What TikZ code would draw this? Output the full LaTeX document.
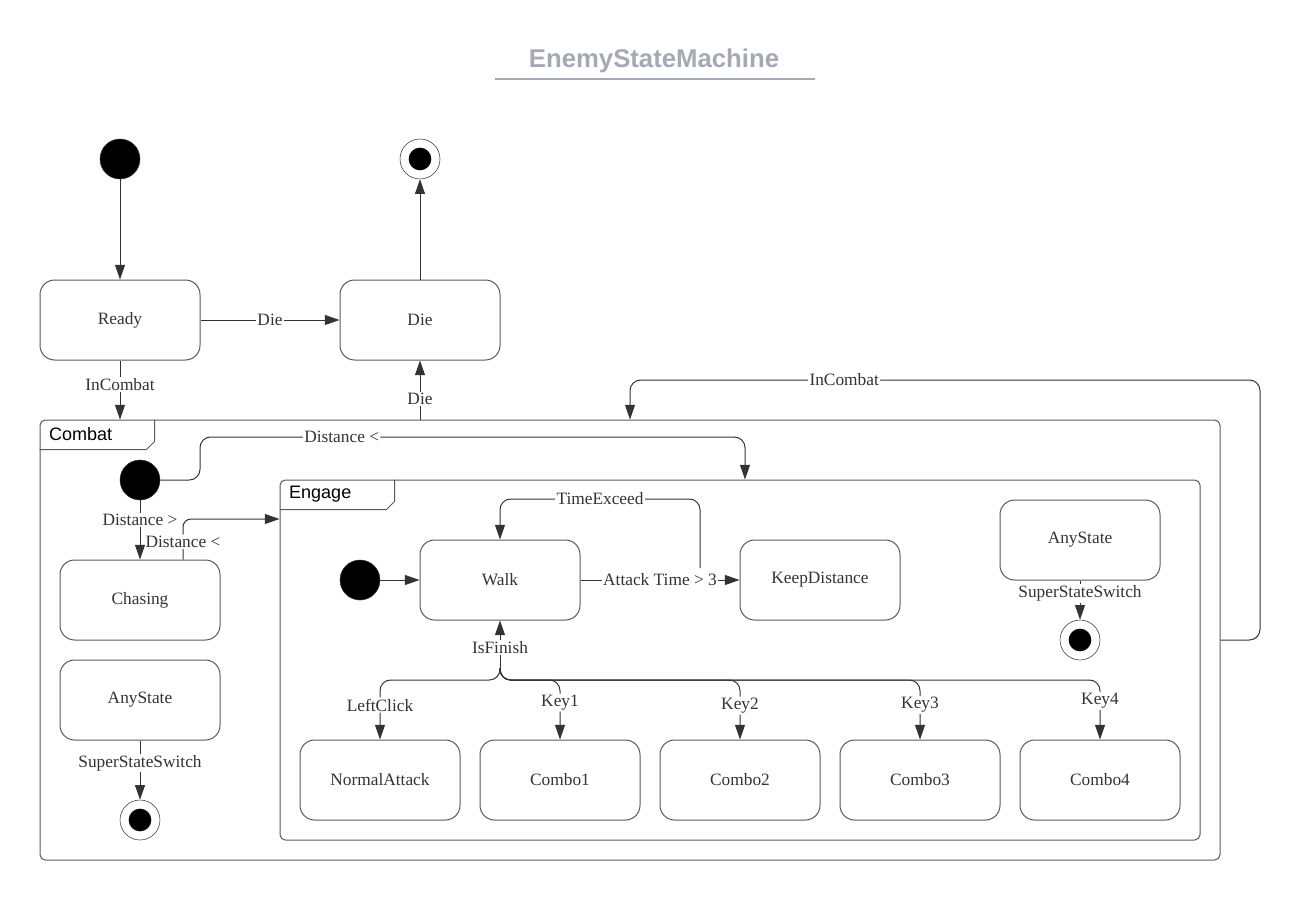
\documentclass[tikz,border=0pt]{standalone}
\usepackage{fontspec}
\setmainfont{Liberation Serif}
\newfontfamily\sansf{Liberation Sans}
\usetikzlibrary{positioning, arrows.meta, calc}
\definecolor{linea}{HTML}{333333}
\definecolor{borde}{HTML}{5A5A5A}
\definecolor{titulo}{HTML}{A4A9B3}
\tikzset{arco/.style={line width=0.75pt, draw=linea, -{Triangle[length=11pt,width=7.5pt]}}}
\tikzset{llabel/.style={fill=white, inner sep=1pt, text=linea, font=\fontsize{13}{15}\selectfont}}
\tikzset{estado/.style={draw=borde, line width=0.75pt, rounded corners=11pt, minimum width=120pt, minimum height=60pt, text=linea, font=\fontsize{13}{15}\selectfont}}
\tikzset{marco/.style={draw=borde, line width=0.75pt, rounded corners=4pt}}
\tikzset{inicio/.style={circle, draw=linea, fill=black, minimum size=30pt, inner sep=0pt}}
\tikzset{fin/.style={circle, draw=linea, fill=white, minimum size=30pt, inner sep=0pt,
    path picture={\fill[black] (path picture bounding box.center) circle (8.5pt);}}}
\tikzset{pestana/.style={anchor=west, text=black, font=\sansf\fontsize{13.5}{16}\selectfont}}
\begin{document}
\begin{tikzpicture}[x=0.75pt, y=-0.75pt]
    \useasboundingbox (0,0) rectangle (1301,897);
    % title
    \node[text=titulo, font=\sansf\bfseries\fontsize{19.3}{22}\selectfont] (title) at (654,61) {EnemyStateMachine};
    \draw[titulo, line width=1.5pt] (495,79) -- (815,79);

    % top level
    \node[inicio] (ini) at (120,159) {};
    \node[fin] (fin) at (420,159) {};
    \node[estado] (ready) at (120,320) {Ready};
    \node[estado] (die) at (420,320) {Die};

    % combat
    \node[marco, minimum width=885pt, minimum height=330pt] (combat) at (630,640) {};
    \draw[borde, line width=0.75pt] ($(combat.north west)+(115,0)$) -- ++(0,22) -- ++(-8,8) -- ($(combat.north west)+(0,30)$);
    \node[pestana] (combatlbl) at ($(combat.north west)+(5,15)$) {Combat};
    \node[inicio] (cini) at (140,480) {};
    \node[estado] (chasing) at (140,600) {Chasing};
    \node[estado] (anyl) at (140,700) {AnyState};
    \node[fin] (cfin) at (140,820) {};

    % engage
    \node[marco, minimum width=690pt, minimum height=270pt] (engage) at (740,660) {};
    \draw[borde, line width=0.75pt] ($(engage.north west)+(115,0)$) -- ++(0,22) -- ++(-8,8) -- ($(engage.north west)+(0,30)$);
    \node[pestana] (engagelbl) at ($(engage.north west)+(5,15)$) {Engage};
    \node[inicio] (eini) at (360,580) {};
    \node[estado] (walk) at (500,580) {Walk};
    \node[estado] (keep) at (820,580) {KeepDistance};
    \node[estado] (anyr) at (1080,540) {AnyState};
    \node[fin] (rfin) at (1080,640) {};
    \node[estado] (na) at (380,780) {NormalAttack};
    \node[estado] (c1) at (560,780) {Combo1};
    \node[estado] (c2) at (740,780) {Combo2};
    \node[estado] (c3) at (920,780) {Combo3};
    \node[estado] (c4) at (1100,780) {Combo4};

    \coordinate (dx) at (745,437);
    \coordinate (te) at (700,568);
    \coordinate (hub) at (500,668);
    \coordinate (bar) at (500,680);

    % transitions
    \draw[arco] (ini) -- (ready);
    \draw[arco] (ready) -- node[llabel]{Die} (die);
    \draw[arco] (die) -- (fin);
    \draw[arco] (ready.south) -- node[llabel, pos=0.4]{InCombat} (ready.south |- combat.north);
    \draw[arco] (die.south |- combat.north) -- node[llabel, pos=0.35]{Die} (die.south);
    \draw[arco, rounded corners=8pt] (combat.east) -| (1260,380) -| node[llabel, pos=0.33]{InCombat} (combat.north);

    \draw[arco, rounded corners=8pt] (cini.east) -| (200,437) -- node[llabel, pos=0.26]{Distance <} (dx) -- (dx |- engage.north);
    \draw[arco] (cini) -- node[llabel, pos=0.33]{Distance >} (chasing);
    \draw[arco, rounded corners=6pt] ([xshift=32.25pt]chasing.north) |- node[llabel, pos=0.22]{Distance <} (engage.west |- 0,519);
    \draw[arco] (anyl) -- node[llabel, pos=0.38]{SuperStateSwitch} (cfin);

    \draw[arco] (eini) -- (walk);
    \draw[arco] (walk) -- node[llabel]{Attack Time > 3} (keep);
    \draw[arco, rounded corners=8pt] (te) -- ++(0,-69) -| node[llabel, pos=0.25]{TimeExceed} (walk.north);
    \draw[arco] (anyr) -- node[llabel, pos=0.33]{SuperStateSwitch} (rfin);

    \draw[arco] (hub) -- node[llabel, pos=0.44]{IsFinish} (walk.south);
    \foreach \t/\l/\p in {na/LeftClick/0.42, c1/Key1/0.38, c2/Key2/0.43, c3/Key3/0.42, c4/Key4/0.35}
        \draw[arco, rounded corners=8pt] (hub) |- (bar -| \t.north) -- node[llabel, pos=\p]{\l} (\t.north);
\end{tikzpicture}
\end{document}
